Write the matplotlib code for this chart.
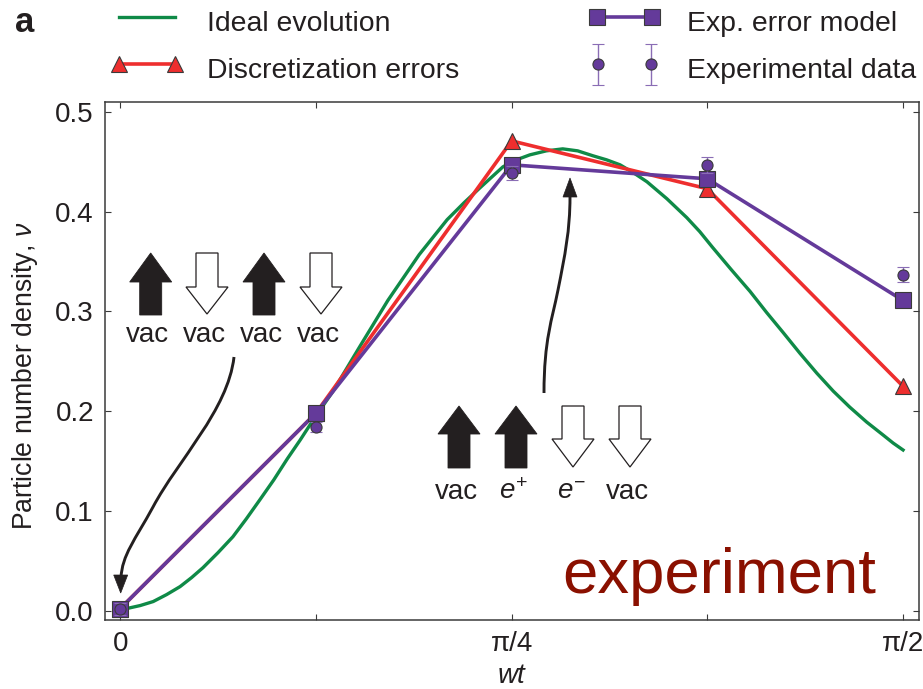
import numpy as np
import matplotlib
matplotlib.use("Agg")
import matplotlib.pyplot as plt
from matplotlib.container import ErrorbarContainer
from matplotlib.legend_handler import HandlerErrorbar, HandlerLine2D
from matplotlib.lines import Line2D
from matplotlib.patches import PathPatch, Polygon
from matplotlib.path import Path
from matplotlib.transforms import Affine2D

plt.rcParams["font.family"] = ["Liberation Sans", "DejaVu Sans"]
plt.rcParams["mathtext.fontset"] = "custom"
plt.rcParams["mathtext.rm"] = "Liberation Sans"
plt.rcParams["mathtext.it"] = "Liberation Sans:italic"

# ---- data ----
wt_ideal = [0.000, 0.013, 0.040, 0.066, 0.093, 0.120, 0.143, 0.166, 0.196, 0.226, 0.253, 0.280, 0.308,
            0.335, 0.361, 0.387, 0.427, 0.481, 0.537, 0.600, 0.656, 0.690, 0.722, 0.768, 0.795, 0.822,
            0.855, 0.888, 0.918, 0.949, 0.976, 1.003, 1.030, 1.057, 1.097, 1.137, 1.163, 1.189,
            1.226, 1.264, 1.297, 1.330, 1.364, 1.398, 1.431, 1.464, 1.498, 1.531, 1.551, 1.571]
nu_ideal = [0.001, 0.002, 0.005, 0.009, 0.016, 0.024, 0.033, 0.043, 0.058, 0.074, 0.092, 0.111, 0.131,
            0.152, 0.171, 0.191, 0.220, 0.265, 0.311, 0.357, 0.392, 0.409, 0.424, 0.445, 0.452, 0.457,
            0.461, 0.463, 0.461, 0.456, 0.452, 0.447, 0.439, 0.430, 0.413, 0.394, 0.380, 0.364,
            0.342, 0.320, 0.299, 0.279, 0.258, 0.238, 0.220, 0.204, 0.189, 0.176, 0.168, 0.161]
wt_steps = [0.0, np.pi / 8, np.pi / 4, 3 * np.pi / 8, np.pi / 2]
nu_discretization = [0.002, 0.198, 0.471, 0.423, 0.225]
nu_error_model = [0.002, 0.198, 0.447, 0.433, 0.311]
nu_experiment = [0.002, 0.184, 0.439, 0.447, 0.337]
nu_experiment_err = [0.006, 0.005, 0.007, 0.008, 0.008]
x_tick_labels = ["0", "", "π/4", "", "π/2"]
y_ticks = [0.0, 0.1, 0.2, 0.3, 0.4, 0.5]

GREEN, RED, PURPLE, PALE = "#0F8A47", "#EE2E2E", "#643A9A", "#8A6DB5"
INK, EDGE = "#231F20", "#3A3A3A"
W, H = 923, 689
FS = 20.4

fig = plt.figure(figsize=(W / 100, H / 100), dpi=100)
ax = fig.add_axes([105 / W, (H - 620) / H, 813.7 / W, 518 / H])
px = Affine2D().scale(1 / W, -1 / H).translate(0, 1) + fig.transFigure

ax.set_xlim(-0.0307, np.pi / 2 + 0.0316)
ax.set_ylim(-0.0095, 0.5100)

l_ideal, = ax.plot(wt_ideal, nu_ideal, color=GREEN, lw=2.4, label="Ideal evolution", zorder=2)
l_disc, = ax.plot(wt_steps, nu_discretization, color=RED, lw=2.6, marker="^", ms=12, mfc=RED,
                  mec=EDGE, mew=0.8, label="Discretization errors", zorder=3)
l_model, = ax.plot(wt_steps, nu_error_model, color=PURPLE, lw=2.6, marker="s", ms=11, mfc=PURPLE,
                   mec=EDGE, mew=0.8, label="Exp. error model", zorder=4)
eb = ax.errorbar(wt_steps, nu_experiment, yerr=nu_experiment_err, fmt="o", ms=8, mfc=PURPLE,
                 mec=EDGE, mew=0.8, ecolor=PALE, elinewidth=1.0, capsize=4, capthick=1.0,
                 label="Experimental data", zorder=5)

ax.set_xticks(wt_steps)
ax.set_xticklabels(x_tick_labels)
ax.set_yticks(y_ticks)
ax.set_yticklabels([f"{v:.1f}" for v in y_ticks])
ax.tick_params(direction="in", length=4.5, width=0.8, color=EDGE, top=True, right=True,
               labelsize=20, labelcolor=INK, pad=8)
for s in ax.spines.values():
    s.set_linewidth(1.1)
    s.set_color(EDGE)
ax.set_xlabel("wt", fontsize=20, style="italic", color=INK, labelpad=4)
ax.set_ylabel("Particle number density, $\\nu$", fontsize=19.2, color=INK)
ax.yaxis.set_label_coords(-65 / 813.7, (620 - 376) / 518)

handlers = {Line2D: HandlerLine2D(marker_pad=0.05, numpoints=2),
            ErrorbarContainer: HandlerErrorbar(yerr_size=0.72, marker_pad=0.1, numpoints=2)}
common = dict(frameon=False, fontsize=FS, loc="upper left", bbox_transform=px, borderpad=0,
              borderaxespad=0, numpoints=2, handlelength=2.05, handleheight=1.5,
              labelspacing=0.44, labelcolor=INK, handler_map=handlers)
left = ax.legend(handles=[l_ideal, l_disc], bbox_to_anchor=(118, 4), handletextpad=1.08, **common)
ax.add_artist(left)
ax.legend(handles=[l_model, eb], bbox_to_anchor=(595.6, 4), handletextpad=1.18, **common)

fig.text(15, 22, "a", transform=px, fontsize=25, fontweight="bold", color=INK, va="center", ha="left")
ax.text(562, 593, "experiment", transform=px, fontsize=45.6, color="#8A1000", ha="left", va="baseline",
        zorder=6)


def up(cx, top, shoulder, bottom):
    pts = [(cx, top), (cx + 21, shoulder), (cx + 11, shoulder), (cx + 11, bottom),
           (cx - 11, bottom), (cx - 11, shoulder), (cx - 21, shoulder)]
    ax.add_patch(Polygon(pts, closed=True, transform=px, fc=INK, ec=INK, lw=0.6, zorder=6))


def down(cx, top, shoulder, tip):
    pts = [(cx - 11, top), (cx + 11, top), (cx + 11, shoulder), (cx + 21, shoulder), (cx, tip),
           (cx - 21, shoulder), (cx - 11, shoulder)]
    ax.add_patch(Polygon(pts, closed=True, transform=px, fc="white", ec=INK, lw=0.9, zorder=6))


up(150.7, 253, 282, 315)
down(207, 253, 287, 314)
up(264, 253, 282, 315)
down(321, 253, 287, 314)
for x in (147.7, 204.5, 261, 318):
    ax.text(x, 335, "vac", transform=px, fontsize=20, color=INK, ha="center", va="center", zorder=6)

up(459, 406, 434, 468)
up(516, 406, 434, 468)
down(573, 406, 439, 467)
down(630, 406, 439, 467)
for x, s in zip((456, 514, 572, 627), ("vac", "$\\mathit{e}^{+}$", "$\\mathit{e}^{-}$", "vac")):
    ax.text(x, 492, s, transform=px, fontsize=20, color=INK, ha="center", va="center", zorder=6)


def curved(verts, codes, tip, base_y):
    ax.add_patch(PathPatch(Path(verts, codes), transform=px, fc="none", ec=INK, lw=2.1, zorder=6))
    cx, ty = tip
    ax.add_patch(Polygon([(cx, ty), (cx + 7, base_y), (cx - 7, base_y)], closed=True, transform=px,
                         fc=INK, ec=INK, lw=0.5, zorder=6))


C = Path.CURVE4
curved([(234, 357), (228, 410), (178, 460), (153, 507), (135, 540), (122, 555), (121, 578)],
       [Path.MOVETO, C, C, C, C, C, C], (120.7, 593), 575)
curved([(544, 393), (544, 340), (552, 320), (558, 290), (565, 255), (570, 230), (570, 197)],
       [Path.MOVETO, C, C, C, C, C, C], (570, 178), 197)

fig.savefig("out.png", dpi=100)
